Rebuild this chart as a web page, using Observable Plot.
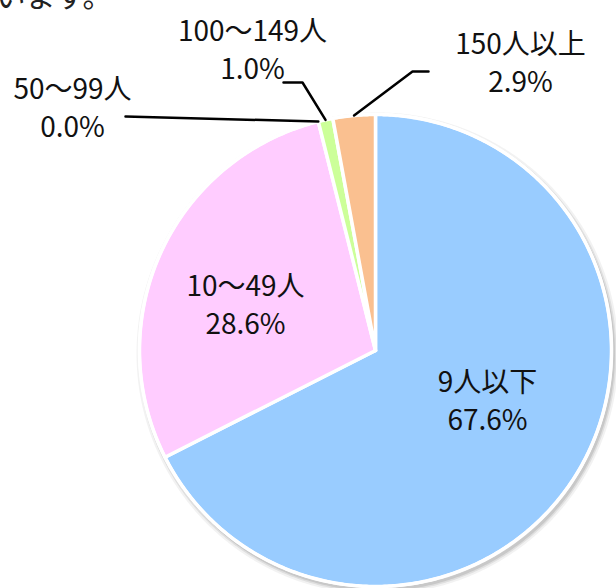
<!DOCTYPE html>
<html>
<head>
<meta charset="utf-8">
<script src="https://cdn.jsdelivr.net/npm/d3@7"></script>
<script src="https://cdn.jsdelivr.net/npm/@observablehq/plot@0.6"></script>
<style>
  html, body { margin: 0; padding: 0; background: #fff; }
  #chart svg { display: block; }
</style>
</head>
<body>
<div id="chart"></div>
<script>
// ---- data ----
const categories = ["9人以下", "10〜49人", "50〜99人", "100〜149人", "150人以上"];
const values = [67.6, 28.6, 0.0, 1.0, 2.9];
const percentLabels = ["67.6%", "28.6%", "0.0%", "1.0%", "2.9%"];
const colors = ["#99CCFF", "#FFCCFF", "#E6E6FA", "#CCFF99", "#FAC090"];
const topText = "ています。";

// ---- layout (pixels) ----
const W = 616, H = 588;
const CX = 375, CY = 350, R = 236;
const FONT = "'Noto Sans CJK JP', 'Noto Sans', sans-serif";
// label centres (pixel) and leader elbow points for outside labels
const labelPos = [
  {px: 487, py: 398, leader: null},
  {px: 245, py: 302, leader: null},
  {px: 72,  py: 105, leader: [[125, 116]]},
  {px: 252, py: 47,  leader: [[283, 82], [302, 82]]},
  {px: 520, py: 60,  leader: [[428, 71], [412, 71]]}
];

const toX = px => (px - CX) / R;
const toY = py => (CY - py) / R;

// ---- slices via d3.pie ----
const pie = d3.pie().sort(null).value(d => d.value)
  .startAngle(0).endAngle(2 * Math.PI);
const rows = categories.map((c, i) => ({category: c, value: values[i], color: colors[i], pct: percentLabels[i]}));
const arcs = pie(rows);

const slicePts = [];
arcs.forEach((a, i) => {
  if (a.endAngle - a.startAngle <= 0) return;
  const steps = Math.max(2, Math.ceil((a.endAngle - a.startAngle) / (Math.PI / 360)));
  slicePts.push({k: i, x: 0, y: 0});
  for (let s = 0; s <= steps; s++) {
    const t = a.startAngle + (a.endAngle - a.startAngle) * s / steps;
    slicePts.push({k: i, x: Math.sin(t), y: Math.cos(t)});
  }
  slicePts.push({k: i, x: 0, y: 0});
});

const ringPts = d3.range(0, 721).map(s => {
  const t = s / 720 * 2 * Math.PI;
  return {x: Math.sin(t), y: Math.cos(t)};
});

// labels
const labelData = arcs.map((a, i) => ({
  x: toX(labelPos[i].px), y: toY(labelPos[i].py),
  text: rows[i].category + "\n" + rows[i].pct
}));

// leader lines: elbow points then point on pie edge at slice mid-angle
const leaderPts = [];
arcs.forEach((a, i) => {
  const L = labelPos[i].leader;
  if (!L) return;
  L.forEach(([px, py]) => leaderPts.push({k: i, x: toX(px), y: toY(py)}));
  const m = (a.startAngle + a.endAngle) / 2;
  leaderPts.push({k: i, x: Math.sin(m), y: Math.cos(m)});
});

const plot = Plot.plot({
  width: W, height: H,
  margin: 0,
  x: {domain: [toX(0), toX(W)], axis: null},
  y: {domain: [toY(H), toY(0)], axis: null},
  style: {fontFamily: FONT, background: "#fff"},
  marks: [
    // soft shadow under the pie (layered translucent rings)
    Plot.line(ringPts, {x: "x", y: "y", stroke: "#000", strokeOpacity: 0.05, strokeWidth: 10,
      fill: "none", dx: 2, dy: 3, curve: "linear-closed"}),
    Plot.line(ringPts, {x: "x", y: "y", stroke: "#000", strokeOpacity: 0.08, strokeWidth: 6,
      fill: "none", dx: 2, dy: 3, curve: "linear-closed"}),
    Plot.line(ringPts, {x: "x", y: "y", stroke: "#000", strokeOpacity: 0.1, strokeWidth: 3,
      fill: "none", dx: 2, dy: 3, curve: "linear-closed"}),
    Plot.line(slicePts, {x: "x", y: "y", z: "k",
      fill: d => colors[d.k], stroke: "white", strokeWidth: 3.5,
      strokeLinejoin: "round", curve: "linear"}),
    Plot.line(ringPts, {x: "x", y: "y", stroke: "white", strokeWidth: 3, fill: "none", curve: "linear-closed"}),
    Plot.line(leaderPts, {x: "x", y: "y", z: "k", stroke: "black", strokeWidth: 2.5}),
    Plot.text(labelData, {x: "x", y: "y", text: "text", fontSize: 28,
      lineHeight: 1.35, fill: "#111", textAnchor: "middle", lineAnchor: "middle"}),
    Plot.text([topText], {frameAnchor: "top-left", text: d => d, fontSize: 30,
      textAnchor: "end", lineAnchor: "bottom", dx: 112, dy: 6, fill: "#222",
      fontFamily: "'Noto Sans CJK JP', serif"})
  ]
});
document.getElementById("chart").appendChild(plot);
</script>
</body>
</html>
